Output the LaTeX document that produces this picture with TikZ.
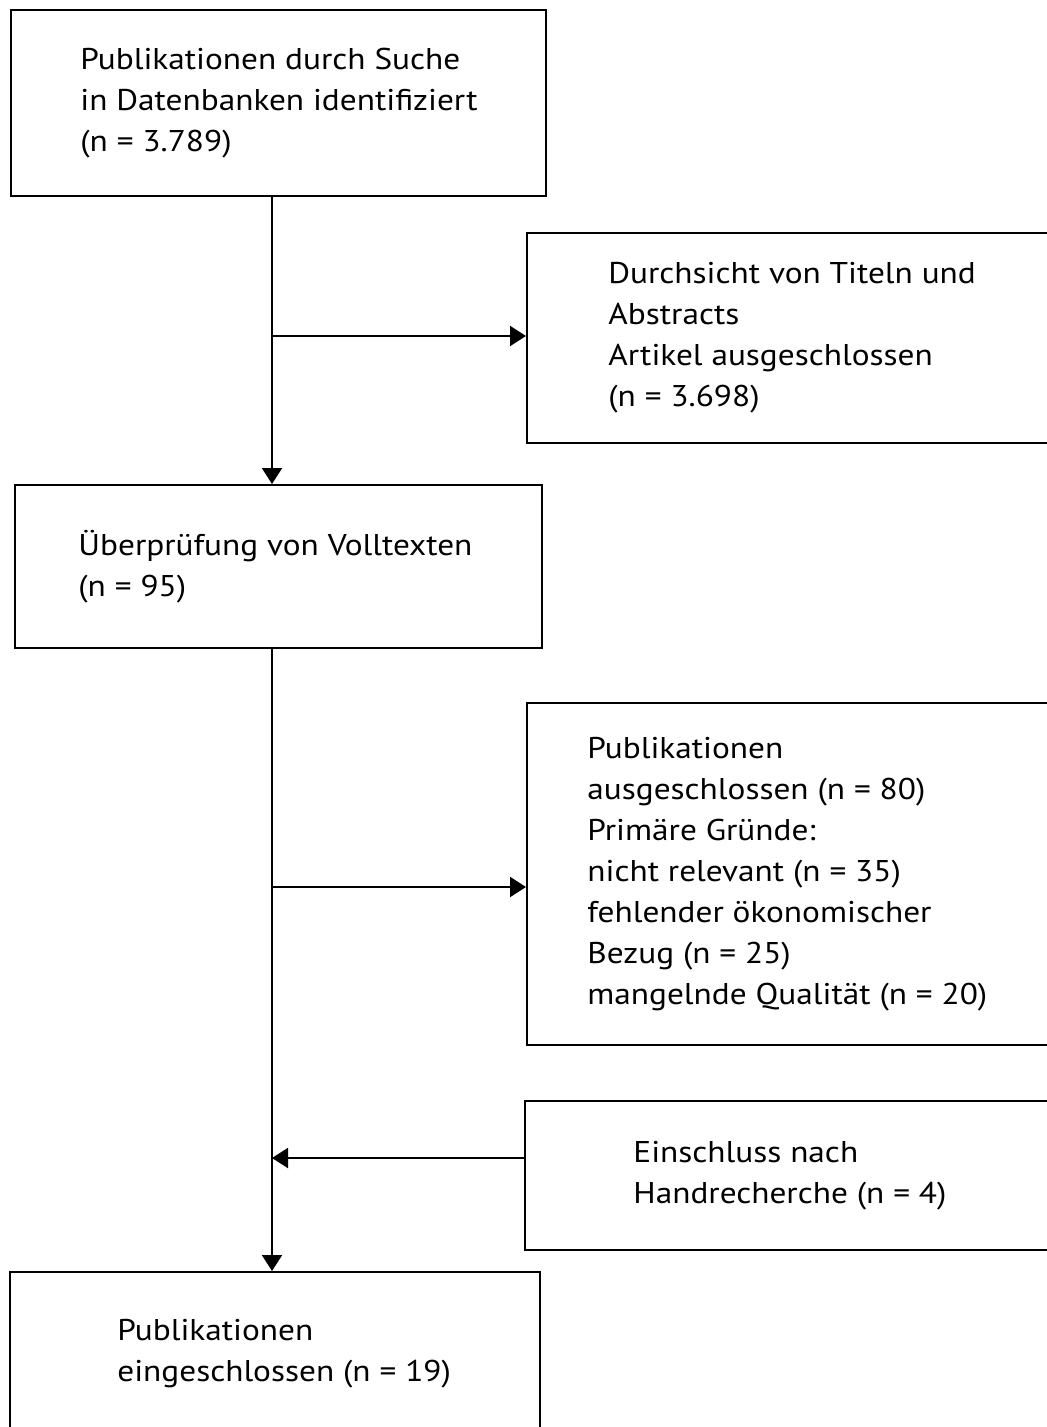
\documentclass[tikz,border=0pt]{standalone}
\usepackage{fontspec}
\setmainfont{PT Sans}[FakeStretch=1.11]
\usetikzlibrary{arrows.meta,positioning}

\begin{document}
\begin{tikzpicture}
[every node/.style={inner sep=0pt}, box/.style={rectangle, draw=black, line width=1pt}, txt/.style={align=left, font=\fontsize{15pt}{20.5pt}\selectfont}, arr/.style={line width=1pt, -{Triangle[length=8pt, width=10pt]}}]
\useasboundingbox (0pt, 0pt) rectangle (523.5pt, -713.5pt);
\clip (0pt, 0pt) rectangle (523.5pt, -713.5pt);
\node (search) [box, minimum width=267.5pt, minimum height=93pt] at (139.25pt, -51.5pt) {};
\node (screen) [box, minimum width=266.5pt, minimum height=105pt] at (396.75pt, -169pt) {};
\node (fulltext) [box, minimum width=263.5pt, minimum height=81.5pt] at (139.25pt, -283.25pt) {};
\node (excl) [box, minimum width=266.5pt, minimum height=171pt] at (396.75pt, -437pt) {};
\node (hand) [box, minimum width=267.5pt, minimum height=74.5pt] at (396.25pt, -587.75pt) {};
\node (incl) [box, minimum width=265pt, minimum height=94pt] at (137.5pt, -683pt) {};
\node (searchtxt) [txt, right=35pt of search.west] {Publikationen durch Suche\\in Datenbanken identifiziert\\(n = 3.789)};
\node (screentxt) [txt, right=41pt of screen.west] {Durchsicht von Titeln und\\Abstracts\\Artikel ausgeschlossen\\(n = 3.698)};
\node (fulltexttxt) [txt, right=32pt of fulltext.west] {Überprüfung von Volltexten\\(n = 95)};
\node (excltxt) [txt, right=30.5pt of excl.west] {Publikationen\\ausgeschlossen (n = 80)\\Primäre Gründe:\\nicht relevant (n = 35)\\fehlender ökonomischer\\Bezug (n = 25)\\mangelnde Qualität (n = 20)};
\node (handtxt) [txt, right=54.5pt of hand.west] {Einschluss nach\\Handrecherche (n = 4)};
\node (incltxt) [txt, below right=24pt and 54pt of incl.north west] {Publikationen\\eingeschlossen (n = 19)};
\coordinate (b1) at (136pt, -168pt);
\coordinate (b2) at (136pt, -443.5pt);
\coordinate (b3) at (136pt, -579pt);
\draw [arr] (search.south -| b1) -- (fulltext.north -| b1);
\draw [arr] (b1) -- (b1 -| screen.west);
\draw [arr] (fulltext.south -| b2) -- (incl.north -| b2);
\draw [arr] (b2) -- (b2 -| excl.west);
\draw [arr] (hand.west |- b3) -- (b3);
\end{tikzpicture}
\end{document}
